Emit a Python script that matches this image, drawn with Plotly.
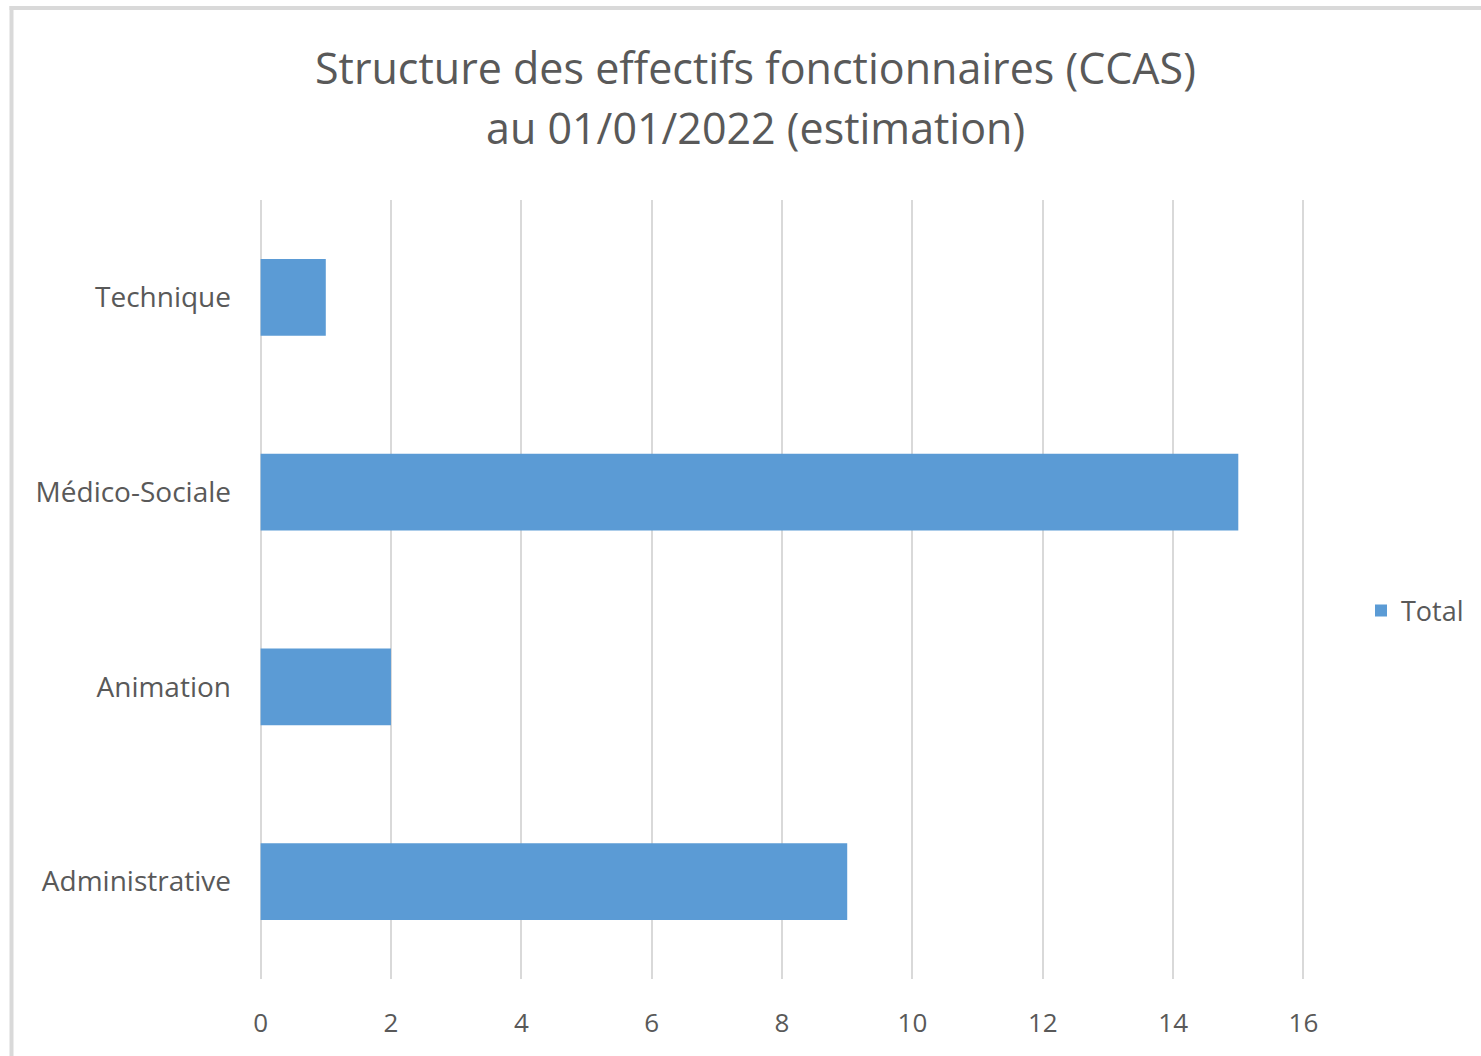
import plotly.graph_objects as go

categories = ["Administrative", "Animation", "Médico-Sociale", "Technique"]
values = [9, 2, 15, 1]
x_ticks = [0, 2, 4, 6, 8, 10, 12, 14, 16]
title_lines = ["Structure des effectifs fonctionnaires (CCAS)", "au 01/01/2022 (estimation)"]

W, H = 1481, 1056
ML, MR, MT, MB = 258, 171, 200, 77
pw, ph = W - ML - MR, H - MT - MB

def px_x(px):
    return (px - ML) / pw

def px_y(py):
    return (H - MB - py) / ph

fig = go.Figure()
fig.add_trace(go.Bar(
    y=categories, x=values, orientation="h", name="Total",
    marker=dict(color="#5B9BD5", line=dict(width=0)),
    showlegend=True,
))

font_family = "Open Sans, Noto Sans, sans-serif"
title_font = dict(family=font_family, size=43, color="#595959")
annotations = [
    dict(text=title_lines[0], xref="paper", yref="paper", x=px_x(755), y=px_y(67),
         xanchor="center", yanchor="middle", showarrow=False, font=title_font),
    dict(text=title_lines[1], xref="paper", yref="paper", x=px_x(755), y=px_y(127),
         xanchor="center", yanchor="middle", showarrow=False, font=title_font),
]

fig.update_layout(
    width=W, height=H,
    margin=dict(l=ML, r=MR, t=MT, b=MB),
    paper_bgcolor="white", plot_bgcolor="white",
    annotations=annotations,
    bargap=0.605,
    showlegend=True,
    legend=dict(
        x=px_x(1361), y=px_y(611), xanchor="left", yanchor="middle",
        font=dict(family=font_family, size=27, color="#595959"),
        bgcolor="rgba(0,0,0,0)", itemwidth=30,
    ),
    xaxis=dict(
        range=[-0.04, 16.1], tickvals=x_ticks, showgrid=True,
        gridcolor="#d9d9d9", gridwidth=2, zeroline=False, showline=False,
        ticks="", ticklabelstandoff=26,
        tickfont=dict(family=font_family, size=26, color="#595959"),
        fixedrange=True,
    ),
    yaxis=dict(
        categoryorder="array", categoryarray=categories,
        showgrid=False, zeroline=False, showline=False, ticks="",
        ticklabelstandoff=26,
        tickfont=dict(family=font_family, size=28, color="#595959"),
    ),
    shapes=[
        dict(type="line", xref="paper", yref="paper",
             x0=px_x(11.5), x1=px_x(11.5), y0=px_y(6), y1=px_y(H + 5),
             line=dict(color="#d9d9d9", width=4)),
        dict(type="line", xref="paper", yref="paper",
             x0=px_x(9.5), x1=px_x(W + 5), y0=px_y(8), y1=px_y(8),
             line=dict(color="#d9d9d9", width=4)),
    ],
)

fig.write_html(
    "out.html",
    config={"displayModeBar": False},
    post_script="document.body.style.margin='0';document.body.style.overflow='hidden';",
)
